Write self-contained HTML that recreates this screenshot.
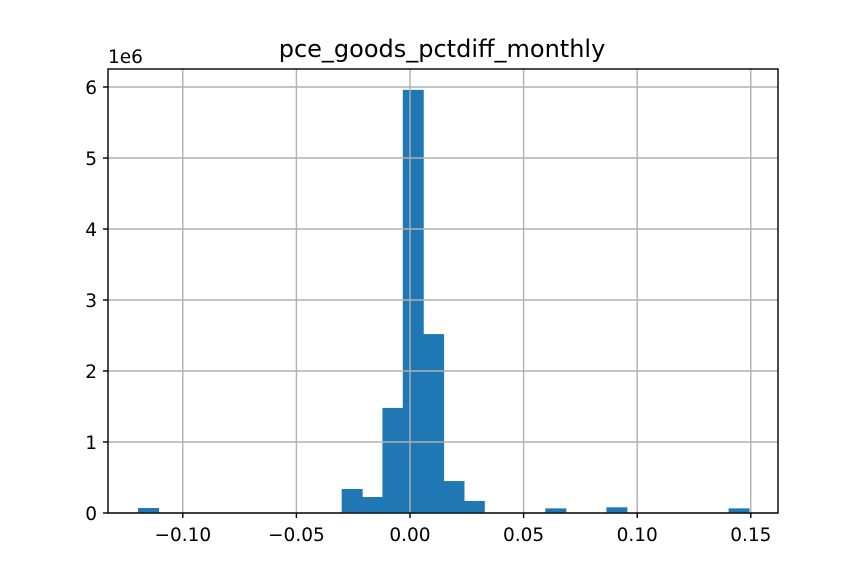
<!DOCTYPE html>
<html><head><meta charset="utf-8"><style>
body{margin:0;background:#fff}
svg text{font-family:"DejaVu Sans","Liberation Sans",sans-serif;fill:#000}
</style></head><body>
<svg id="chart" width="864" height="576">
<rect width="864" height="576" fill="#fff"/>
<g id="grid"></g><g id="bars"></g><g id="axes"></g>
<text x="442" y="57" font-size="24" text-anchor="middle">pce_goods_pctdiff_monthly</text>
<text x="108" y="63" font-size="18.5">1e6</text>
</svg>
<script>
const binMin = -0.1197;
const binMax = 0.1492;
const counts = [0.07,0,0,0,0,0,0,0,0,0,0.338,0.225,1.48,5.96,2.52,0.45,0.17,0,0,0,0.065,0,0,0.08,0,0,0,0,0,0.065];
const xTicks = [-0.10,-0.05,0.00,0.05,0.10,0.15];
const xTickLabels = ["\u22120.10","\u22120.05","0.00","0.05","0.10","0.15"];
const yTicks = [0,1,2,3,4,5,6];
const L=108,R=778,T=69,B=513;
const X=v=>410+v*2272;
const Y=v=>B-v*71;
const NS='http://www.w3.org/2000/svg';
function mk(tag,attrs,parent){const e=document.createElementNS(NS,tag);for(const k in attrs)e.setAttribute(k,attrs[k]);parent.appendChild(e);return e;}
const grid=document.getElementById('grid'),bars=document.getElementById('bars'),axes=document.getElementById('axes');
xTicks.forEach((t,i)=>{const x=X(t);
 const g=mk('line',{x1:x,x2:x,y1:T,y2:B,stroke:'#b0b0b0','stroke-width':1.4},grid);
 
 
 const tk=mk('line',{x1:x,x2:x,y1:B,y2:B+5,stroke:'#000','stroke-width':1.4},axes);
 
 
 const tx=mk('text',{x:x,y:B+28,'font-size':18.5,'text-anchor':'middle'},axes);tx.textContent=xTickLabels[i];
 
 
});
yTicks.forEach(t=>{const y=Y(t);
 const g=mk('line',{x1:L,x2:R,y1:y,y2:y,stroke:'#b0b0b0','stroke-width':1.4},grid);
 
 
 const tk=mk('line',{x1:L-5,x2:L,y1:y,y2:y,stroke:'#000','stroke-width':1.4},axes);
 
 
 const tx=mk('text',{x:L-11,y:y+7,'font-size':18.5,'text-anchor':'end'},axes);tx.textContent=String(t);
 
 
});
const w=(binMax-binMin)/counts.length;
counts.forEach((c,i)=>{if(c<=0)return;const x0=X(binMin+i*w),x1=X(binMin+(i+1)*w);
 const r=mk('rect',{x:x0,y:Y(c),width:x1-x0+0.6,height:B-Y(c),fill:'#1f77b4'},bars);
 
 
});
grid.parentNode.insertBefore(bars,grid);
const fr=mk('rect',{x:L,y:T,width:R-L,height:B-T,fill:'none',stroke:'#000','stroke-width':1.4},axes);


</script>
</body></html>
